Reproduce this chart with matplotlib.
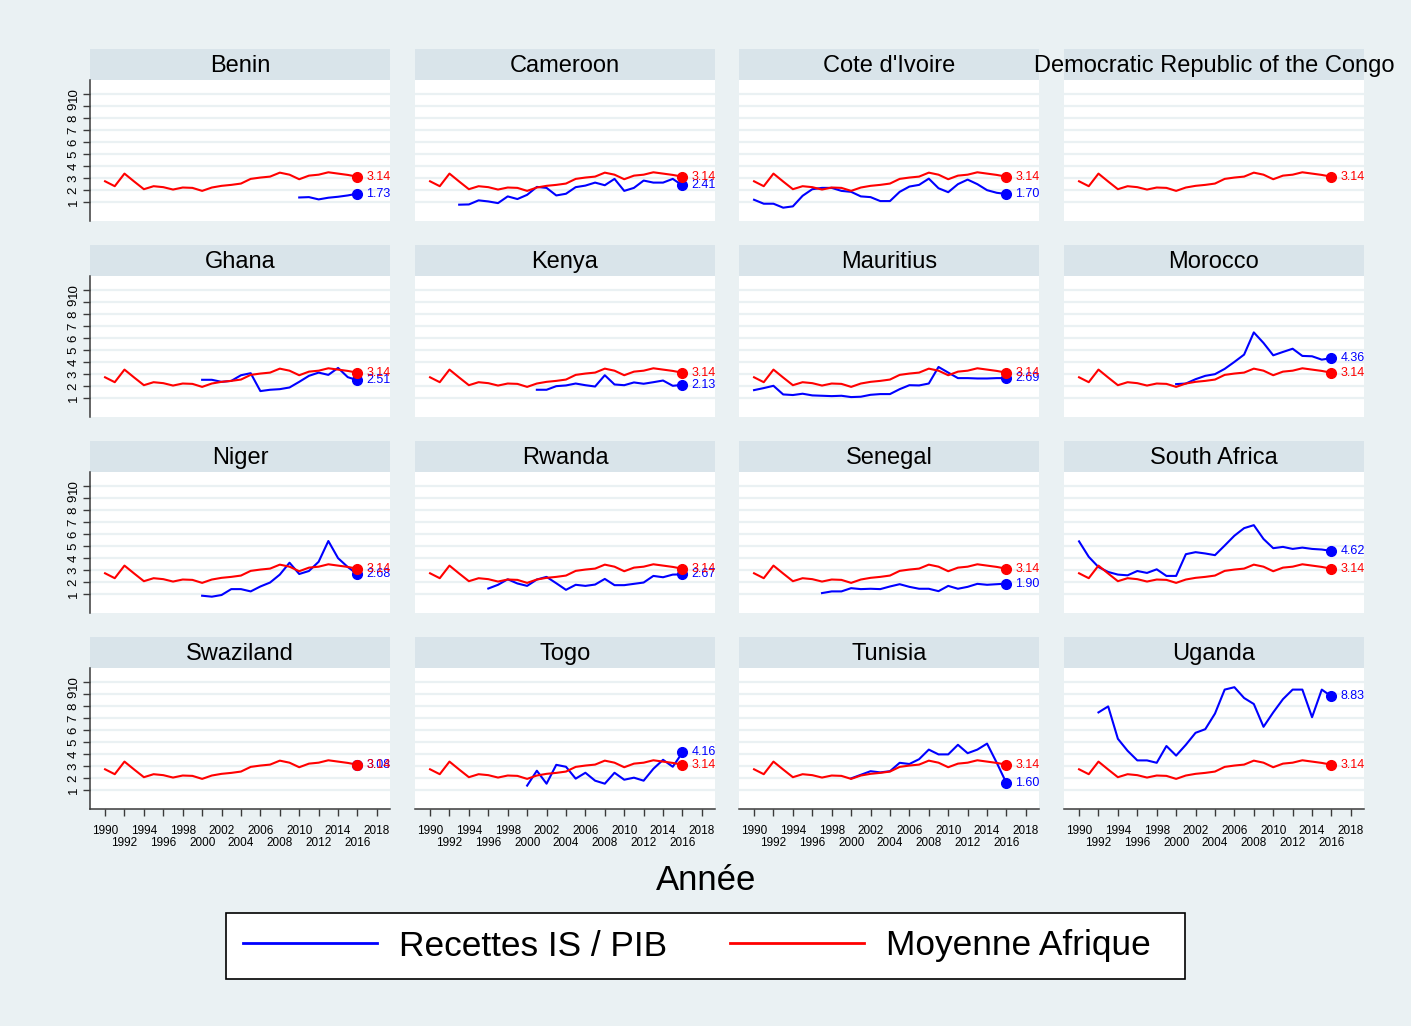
import matplotlib
matplotlib.use("Agg")
import matplotlib.pyplot as plt
from matplotlib.lines import Line2D
from matplotlib.patches import Rectangle

plt.rcParams["font.family"] = ["Liberation Sans", "DejaVu Sans"]

# ---- data -------------------------------------------------------------
years = list(range(1990, 2017))
africa_avg = [2.76, 2.35, 3.40, 2.74, 2.10, 2.35, 2.27, 2.07, 2.24, 2.21,
              1.96, 2.24, 2.38, 2.46, 2.57, 2.96, 3.07, 3.15, 3.48, 3.31,
              2.93, 3.23, 3.31, 3.51, 3.40, 3.29, 3.14]

benin_start = 2010
benin = [1.41, 1.44, 1.25, 1.39, 1.47, 1.58, 1.73]
cameroon_start = 1993
cameroon = [0.81, 0.83, 1.17, 1.08, 0.94, 1.50, 1.28, 1.63, 2.29, 2.21, 1.58,
            1.72, 2.27, 2.40, 2.65, 2.43, 2.96, 1.96, 2.21, 2.82, 2.65, 2.65,
            2.96, 2.41]
cote_start = 1990
cote = [1.22, 0.89, 0.89, 0.56, 0.67, 1.55, 2.10, 2.21, 2.21, 1.96, 1.88,
        1.50, 1.44, 1.11, 1.11, 1.88, 2.32, 2.46, 2.98, 2.18, 1.85, 2.52,
        2.90, 2.52, 2.02, 1.80, 1.70]
drc_start = 2016
drc = []
ghana_start = 2000
ghana = [2.55, 2.55, 2.38, 2.46, 2.93, 3.10, 1.61, 1.72, 1.77, 1.91, 2.38,
         2.88, 3.15, 2.96, 3.54, 2.77, 2.51]
kenya_start = 2001
kenya = [1.72, 1.72, 2.02, 2.08, 2.24, 2.10, 1.99, 2.93, 2.16, 2.10, 2.33,
         2.22, 2.35, 2.49, 2.05, 2.13]
mauritius_start = 1990
mauritius = [1.69, 1.86, 2.05, 1.33, 1.28, 1.39, 1.25, 1.22, 1.19, 1.22, 1.11,
             1.14, 1.30, 1.36, 1.36, 1.77, 2.10, 2.08, 2.24, 3.62, 3.15, 2.69,
             2.69, 2.66, 2.66, 2.69, 2.69]
morocco_start = 2000
morocco = [2.19, 2.24, 2.60, 2.88, 3.02, 3.46, 4.04, 4.65, 6.50, 5.62, 4.59,
           4.87, 5.14, 4.54, 4.51, 4.23, 4.36]
niger_start = 2000
niger = [0.89, 0.81, 0.95, 1.44, 1.44, 1.25, 1.66, 1.99, 2.65, 3.64, 2.70,
         2.95, 3.72, 5.45, 4.02, 3.28, 2.68]
rwanda_start = 1996
rwanda = [1.49, 1.80, 2.26, 1.91, 1.71, 2.24, 2.46, 1.93, 1.38, 1.80, 1.71,
          1.82, 2.29, 1.77, 1.77, 1.88, 1.99, 2.54, 2.43, 2.65, 2.67]
senegal_start = 1997
senegal = [1.11, 1.25, 1.25, 1.52, 1.44, 1.47, 1.44, 1.66, 1.85, 1.63, 1.47,
           1.47, 1.27, 1.71, 1.47, 1.63, 1.88, 1.80, 1.85, 1.90]
south_africa_start = 1990
south_africa = [5.42, 4.13, 3.28, 2.87, 2.65, 2.59, 2.95, 2.79, 3.09, 2.54,
                2.54, 4.35, 4.52, 4.41, 4.27, 5.07, 5.89, 6.52, 6.77, 5.62,
                4.85, 4.96, 4.79, 4.90, 4.79, 4.74, 4.62]
swaziland_start = 2016
swaziland = [3.08]
togo_start = 2000
togo = [1.40, 2.64, 1.56, 3.13, 2.97, 1.98, 2.47, 1.81, 1.56, 2.47, 1.89,
        2.06, 1.81, 2.80, 3.55, 2.97, 4.16]
tunisia_start = 2000
tunisia = [2.0, 2.3, 2.6, 2.5, 2.6, 3.3, 3.2, 3.6, 4.4, 4.0, 4.0, 4.8, 4.1,
           4.4, 4.9, 3.3, 1.60]
uganda_start = 1992
uganda = [7.5, 8.0, 5.3, 4.3, 3.5, 3.5, 3.3, 4.7, 3.9, 4.8, 5.8, 6.1, 7.4,
          9.4, 9.6, 8.7, 8.2, 6.3, 7.5, 8.6, 9.4, 9.4, 7.1, 9.4, 8.83]

panels = [
    ("Benin", benin_start, benin),
    ("Cameroon", cameroon_start, cameroon),
    ("Cote d'Ivoire", cote_start, cote),
    ("Democratic Republic of the Congo", drc_start, drc),
    ("Ghana", ghana_start, ghana),
    ("Kenya", kenya_start, kenya),
    ("Mauritius", mauritius_start, mauritius),
    ("Morocco", morocco_start, morocco),
    ("Niger", niger_start, niger),
    ("Rwanda", rwanda_start, rwanda),
    ("Senegal", senegal_start, senegal),
    ("South Africa", south_africa_start, south_africa),
    ("Swaziland", swaziland_start, swaziland),
    ("Togo", togo_start, togo),
    ("Tunisia", tunisia_start, tunisia),
    ("Uganda", uganda_start, uganda),
]

y_ticks = list(range(1, 11))
x_ticks_upper = list(range(1990, 2019, 4))
x_ticks_lower = list(range(1992, 2019, 4))

series_label = "Recettes IS / PIB"
avg_label = "Moyenne Afrique"
x_title = "Année"

# ---- style ------------------------------------------------------------
BG = "#eaf1f3"
STRIP = "#d9e4ea"
GRID = "#eaf1f3"
AXIS = "#3a3a3a"
BLUE = "#0000ff"
RED = "#ff0000"

W, H = 1411, 1026
fig = plt.figure(figsize=(W / 100, H / 100), dpi=100)
fig.patch.set_facecolor(BG)

col_x = [90, 415, 739, 1064]
row_top = [49, 245, 441, 637]
panel_w = 300
strip_h = 31
plot_h = 141


def fig_rect(x0, y0, w, h):
    return [x0 / W, 1 - (y0 + h) / H, w / W, h / H]


def draw_end(ax, x, y, color):
    ax.plot([x], [y], "o", color=color, markersize=7, zorder=5, clip_on=False)
    ax.annotate(f"{y:.2f}", (x, y), xytext=(6.5, 0), textcoords="offset points",
                color=color, fontsize=9, va="center", ha="left",
                annotation_clip=False, zorder=6)


for i, (name, start, vals) in enumerate(panels):
    r, c = divmod(i, 4)
    x0 = col_x[c]
    top = row_top[r]

    # title strip
    sax = fig.add_axes(fig_rect(x0, top, panel_w, strip_h))
    sax.set_facecolor(STRIP)
    sax.set_xticks([])
    sax.set_yticks([])
    for s in sax.spines.values():
        s.set_visible(False)
    sax.text(0.5, 0.45, name, transform=sax.transAxes, ha="center",
             va="center", fontsize=17, color="black", clip_on=False)

    # plot region
    ax = fig.add_axes(fig_rect(x0, top + strip_h, panel_w, plot_h))
    ax.set_facecolor("white")
    ax.set_xlim(1988.45, 2019.35)
    ax.set_ylim(-0.55, 11.2)
    for yv in y_ticks:
        ax.axhline(yv, color=GRID, lw=1.6, zorder=1)
    for s in ax.spines.values():
        s.set_visible(False)

    ax.set_yticks(y_ticks)
    if c == 0:
        ax.spines["left"].set_visible(True)
        ax.spines["left"].set_color(AXIS)
        ax.spines["left"].set_linewidth(1.1)
        ax.tick_params(axis="y", length=5, width=1, color=AXIS, pad=2.5,
                       labelsize=9.5, labelrotation=90)
        for lab in ax.get_yticklabels():
            lab.set_va("center")
    else:
        ax.tick_params(axis="y", length=0, labelleft=False)

    ax.set_xticks(x_ticks_upper)
    ax.set_xticks(x_ticks_lower, minor=True)
    if r == 3:
        ax.spines["bottom"].set_visible(True)
        ax.spines["bottom"].set_color(AXIS)
        ax.spines["bottom"].set_linewidth(1.1)
        ax.tick_params(axis="x", which="major", length=5, width=1, color=AXIS,
                       pad=6.5, labelsize=8.5)
        ax.tick_params(axis="x", which="minor", length=5, width=1, color=AXIS,
                       pad=15.5, labelsize=8.5)
        ax.set_xticklabels([str(v) for v in x_ticks_upper])
        ax.set_xticklabels([str(v) for v in x_ticks_lower], minor=True)
    else:
        ax.tick_params(axis="x", which="both", length=0, labelbottom=False)

    # country series
    if vals:
        yrs = list(range(start, start + len(vals)))
        ax.plot(yrs, vals, color=BLUE, lw=1.5, zorder=3)
        draw_end(ax, yrs[-1], vals[-1], BLUE)

    # Africa average
    ax.plot(years, africa_avg, color=RED, lw=1.5, zorder=4)
    draw_end(ax, years[-1], africa_avg[-1], RED)

fig.text(706 / W, 1 - 880 / H, x_title, ha="center", va="center", fontsize=25)

# legend: framed box with the two entries spread across it
fig.add_artist(Rectangle((226 / W, 1 - 979 / H), 959 / W, 66 / H,
                         transform=fig.transFigure, facecolor="white",
                         edgecolor="black", linewidth=1.2, zorder=2))
handles = [Line2D([], [], color=BLUE, lw=2),
           Line2D([], [], color=RED, lw=2)]
leg = fig.legend(handles, [series_label, avg_label], loc="center",
                 bbox_to_anchor=(226 / W, 1 - 979 / H, 942 / W, 66 / H),
                 mode="expand", ncol=2, fontsize=25.4, frameon=False,
                 handlelength=3.8, handletextpad=0.63, columnspacing=1.9,
                 borderpad=0.48, borderaxespad=0)
leg.set_zorder(3)

fig.savefig("out.png", dpi=100, facecolor=BG)
